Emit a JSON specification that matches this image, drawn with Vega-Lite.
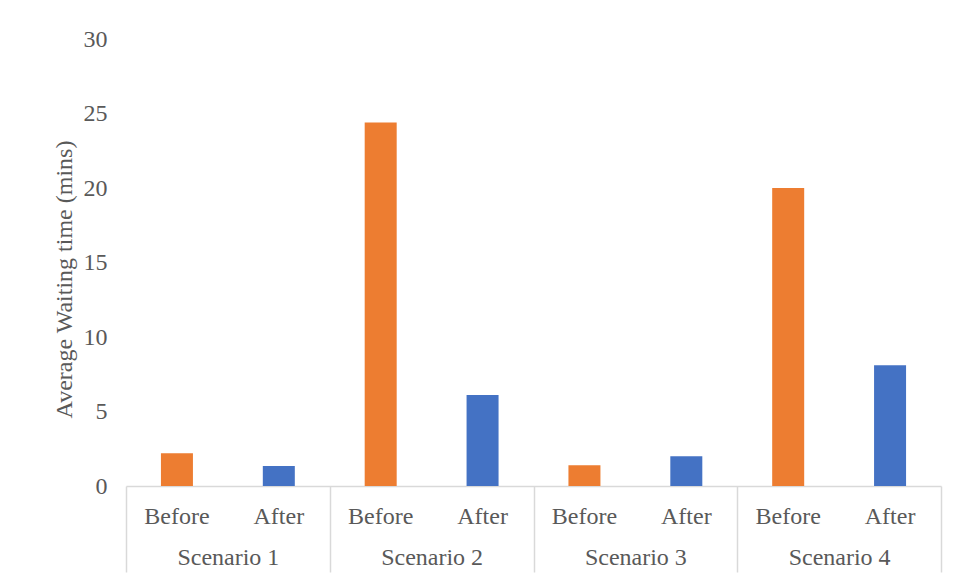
{
  "$schema": "https://vega.github.io/schema/vega-lite/v6.json",
  "width": 815,
  "height": 447,
  "autosize": {"type": "none"},
  "padding": {"left": 126, "top": 39, "right": 17, "bottom": 95},
  "background": "white",
  "config": {"view": {"stroke": null}, "font": "Liberation Serif, Times New Roman, serif"},
  "layer": [
    {
      "data": {"values": [
        {"Category": "Scenario 1 Before", "Scenario": "Scenario 1", "Phase": "Before", "Value": 2.2},
        {"Category": "Scenario 1 After", "Scenario": "Scenario 1", "Phase": "After", "Value": 1.35},
        {"Category": "Scenario 2 Before", "Scenario": "Scenario 2", "Phase": "Before", "Value": 24.4},
        {"Category": "Scenario 2 After", "Scenario": "Scenario 2", "Phase": "After", "Value": 6.1},
        {"Category": "Scenario 3 Before", "Scenario": "Scenario 3", "Phase": "Before", "Value": 1.4},
        {"Category": "Scenario 3 After", "Scenario": "Scenario 3", "Phase": "After", "Value": 2.0},
        {"Category": "Scenario 4 Before", "Scenario": "Scenario 4", "Phase": "Before", "Value": 20.0},
        {"Category": "Scenario 4 After", "Scenario": "Scenario 4", "Phase": "After", "Value": 8.1}
      ]},
      "mark": {"type": "bar", "width": 32},
      "encoding": {
        "x": {
          "field": "Category", "type": "ordinal", "sort": null,
          "scale": {"paddingInner": 0.69, "paddingOuter": 0.345},
          "axis": {
            "orient": "bottom",
            "title": null, "labelExpr": "split(datum.label, ' ')[2]", "ticks": false,
            "domainColor": "#d9d9d9", "domainWidth": 1.5,
            "labelFont": "Liberation Serif, Times New Roman, serif", "labelFontSize": 24, "labelColor": "#595959",
            "labelPadding": 18, "labelAngle": 0
          }
        },
        "y": {
          "field": "Value", "type": "quantitative",
          "scale": {"domain": [0, 30], "nice": false},
          "axis": {
            "title": "Average Waiting time (mins)", "values": [0, 5, 10, 15, 20, 25, 30],
            "domain": false, "ticks": false, "grid": false,
            "labelFont": "Liberation Serif, Times New Roman, serif", "labelFontSize": 24, "labelColor": "#595959", "labelPadding": 19,
            "titleFont": "Liberation Serif, Times New Roman, serif", "titleFontSize": 24, "titleFontWeight": "normal", "titleColor": "#595959",
            "titlePadding": 7, "titleY": 240
          }
        },
        "color": {
          "field": "Phase", "type": "nominal",
          "scale": {"domain": ["Before", "After"], "range": ["#ED7D31", "#4472C4"]},
          "legend": null
        }
      }
    },
    {
      "data": {"values": [
        {"Scenario": "Scenario 1", "Index": 1},
        {"Scenario": "Scenario 2", "Index": 2},
        {"Scenario": "Scenario 3", "Index": 3},
        {"Scenario": "Scenario 4", "Index": 4}
      ]},
      "mark": {"type": "point", "opacity": 0},
      "encoding": {
        "x": {
          "field": "Index", "type": "quantitative",
          "scale": {"domain": [0.5, 4.5], "nice": false, "zero": false},
          "axis": {
            "orient": "bottom",
            "title": null, "values": [0.5, 1, 1.5, 2, 2.5, 3, 3.5, 4, 4.5],
            "labelExpr": "datum.value % 1 === 0 ? 'Scenario ' + datum.value : ''",
            "labelOverlap": false, "labelFlush": false,
            "tickSize": 86, "tickColor": "#d9d9d9", "tickWidth": 1.5,
            "tickOpacity": {"expr": "datum.value % 1 === 0 ? 0 : 1"},
            "domain": false, "grid": false,
            "labelFont": "Liberation Serif, Times New Roman, serif", "labelFontSize": 24, "labelColor": "#595959",
            "labelPadding": -27
          }
        }
      }
    }
  ],
  "resolve": {"scale": {"x": "independent"}, "axis": {"x": "independent"}}
}
